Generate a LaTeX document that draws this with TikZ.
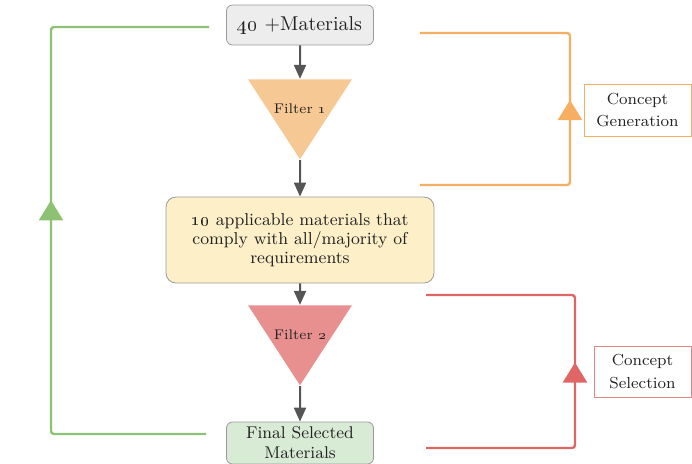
\documentclass[tikz,border=0pt]{standalone}
\usepackage{xcolor}
\usetikzlibrary{positioning, arrows.meta, shapes.geometric, decorations.markings}

\definecolor{textdark}{HTML}{222222}
\definecolor{edgegray}{HTML}{9A9A9A}
\definecolor{flowgray}{HTML}{555555}
\definecolor{matfill}{HTML}{EDEDED}
\definecolor{appfill}{HTML}{FDF0C8}
\definecolor{finfill}{HTML}{D8EBD4}
\definecolor{filterone}{HTML}{F6C893}
\definecolor{filtertwo}{HTML}{E8908F}
\definecolor{loopgreen}{HTML}{8DC275}
\definecolor{looporange}{HTML}{F5AE62}
\definecolor{loopred}{HTML}{E06666}

\begin{document}
\begin{tikzpicture}[x=0.5pt, y=-0.5pt, on grid, >={Triangle[width=6pt,length=7pt]},
    font=\footnotesize, text=textdark,
    box/.style={draw=edgegray, thin, rounded corners=3pt, align=center, inner sep=1pt},
    filterbox/.style={isosceles triangle, shape border rotate=270,
        isosceles triangle apex angle=66, isosceles triangle stretches,
        minimum width=52pt, minimum height=40pt,
        inner sep=0pt, anchor=apex, text height=16pt, font=\scriptsize},
    flow/.style={->, draw=flowgray, line width=1pt},
    looppath/.style={line width=1.2pt, rounded corners=1.5pt, postaction={decorate},
        decoration={markings, mark=at position #1 with {\arrow{Triangle[width=12pt,length=10pt]}}}},
    tagbox/.style={draw=#1, thin, fill=white, align=center, inner sep=1pt,
        font=\footnotesize\linespread{1.2}\selectfont}]
    \useasboundingbox (0,0) rectangle (692,463);

    % Main column
    \node[box, fill=matfill, minimum width=73.5pt, minimum height=20pt, font=\normalsize]
        (mat) at (300,25) {\oldstylenums{40} +Materials};
    \node[box, fill=appfill, rounded corners=5pt, minimum width=134pt, minimum height=43pt,
        font=\fontsize{8.6}{9.4}\selectfont, below=107.5pt of mat] (app)
        {\oldstylenums{10} applicable materials that\\comply with all/majority of\\requirements};
    \node[box, fill=finfill, minimum width=73.5pt, minimum height=21pt,
        font=\fontsize{8.5}{10}\selectfont, below=101.5pt of app] (fin)
        {Final Selected\\Materials};
    \node[filterbox, fill=filterone] (f1) at (300,160) {Filter \oldstylenums{1}};
    \node[filterbox, fill=filtertwo] (f2) at (300,386) {Filter \oldstylenums{2}};

    % Side labels
    \node[tagbox=looporange, minimum width=53.5pt, minimum height=26pt] (gen) at (637.5,110)
        {Concept\\Generation};
    \node[tagbox=loopred!80, minimum width=48.5pt, minimum height=25.5pt] (sel) at (642.5,371.5)
        {Concept\\Selection};

    % Loop ends
    \coordinate (genB) at (420,185);
    \coordinate (genT) at (420,33);
    \coordinate (selB) at (426,448);
    \coordinate (selT) at (426,295);

    % Flow
    \draw[flow] (mat) -- (f1);
    \draw[flow] (f1) -- (app);
    \draw[flow] (app) -- (f2);
    \draw[flow] (f2) -- (fin);

    % Feedback loops
    \draw[looppath=0.54, color=loopgreen]
        ([xshift=-10pt,yshift=4.5pt]fin.west) -- (51,434) -- (51,27) -- ([xshift=-8.5pt,yshift=-1pt]mat.west);
    \draw[looppath=0.52, color=looporange] (genB) -- (570,185) -- (570,33) -- (genT);
    \draw[looppath=0.52, color=loopred] (selB) -- (575,448) -- (575,295) -- (selT);
\end{tikzpicture}
\end{document}
